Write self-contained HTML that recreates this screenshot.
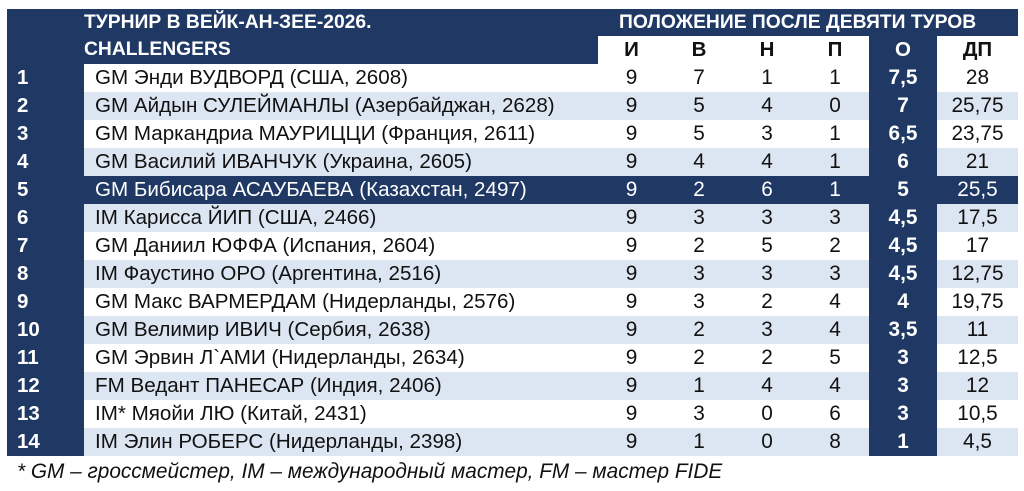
<!DOCTYPE html>
<html><head><meta charset="utf-8">
<style>
html,body{margin:0;padding:0;background:#fff;}
body{width:1024px;height:491px;position:relative;overflow:hidden;font-family:"Liberation Sans","DejaVu Sans",sans-serif;}
.a{position:absolute;}
.nv{background:#1f3864;}
.lb{background:#dce6f2;}
.t{position:absolute;white-space:nowrap;line-height:28px;height:28px;}
.h{font-weight:bold;color:#fff;font-size:19.3px;}
.h2{font-size:20.5px;}
.num{font-weight:bold;color:#fff;font-size:20.5px;left:17px;}
.nm{font-size:20.6px;color:#111;left:95px;}
.c{font-size:20.8px;color:#111;text-align:center;}
.o{font-weight:bold;color:#fff;font-size:20.8px;text-align:center;}
.w{color:#fff !important;}
</style></head><body>
<!-- header -->
<div class="a nv" style="left:7px;top:9px;width:1011px;height:27px;"></div>
<div class="a nv" style="left:7px;top:36px;width:591px;height:28px;"></div>
<div class="a nv" style="left:7px;top:64px;width:77px;height:392px;"></div>
<div class="a nv" style="left:869px;top:36px;width:68px;height:420px;"></div>
<div class="t h" style="left:84px;top:9px;height:27px;line-height:27px;">ТУРНИР В ВЕЙК-АН-ЗЕЕ-2026.</div>
<div class="t h" style="left:84px;top:36px;">CHALLENGERS</div>
<div class="t h" style="left:619px;top:9px;height:27px;line-height:27px;">ПОЛОЖЕНИЕ ПОСЛЕ ДЕВЯТИ ТУРОВ</div>
<div class="t h h2" style="left:598px;top:36px;width:67px;text-align:center;color:#111;">И</div>
<div class="t h h2" style="left:665px;top:36px;width:68px;text-align:center;color:#111;">В</div>
<div class="t h h2" style="left:733px;top:36px;width:68px;text-align:center;color:#111;">Н</div>
<div class="t h h2" style="left:801px;top:36px;width:68px;text-align:center;color:#111;">П</div>
<div class="t h h2" style="left:869px;top:36px;width:68px;text-align:center;">О</div>
<div class="t h h2" style="left:937px;top:36px;width:81px;text-align:center;color:#111;">ДП</div>

<!-- row backgrounds -->
<div class="a lb" style="left:84px;top:92px;width:785px;height:28px;"></div><div class="a lb" style="left:937px;top:92px;width:81px;height:28px;"></div>
<div class="a lb" style="left:84px;top:148px;width:785px;height:28px;"></div><div class="a lb" style="left:937px;top:148px;width:81px;height:28px;"></div>
<div class="a nv" style="left:84px;top:176px;width:934px;height:28px;"></div>
<div class="a lb" style="left:84px;top:204px;width:785px;height:28px;"></div><div class="a lb" style="left:937px;top:204px;width:81px;height:28px;"></div>
<div class="a lb" style="left:84px;top:260px;width:785px;height:28px;"></div><div class="a lb" style="left:937px;top:260px;width:81px;height:28px;"></div>
<div class="a lb" style="left:84px;top:316px;width:785px;height:28px;"></div><div class="a lb" style="left:937px;top:316px;width:81px;height:28px;"></div>
<div class="a lb" style="left:84px;top:372px;width:785px;height:28px;"></div><div class="a lb" style="left:937px;top:372px;width:81px;height:28px;"></div>
<div class="a lb" style="left:84px;top:428px;width:785px;height:28px;"></div><div class="a lb" style="left:937px;top:428px;width:81px;height:28px;"></div>

<!-- rows -->
<div class="t num" style="top:64px">1</div><div class="t nm" style="top:64px">GM Энди ВУДВОРД (США, 2608)</div>
<div class="t c" style="left:598px;width:67px;top:64px">9</div><div class="t c" style="left:665px;width:68px;top:64px">7</div><div class="t c" style="left:733px;width:68px;top:64px">1</div><div class="t c" style="left:801px;width:68px;top:64px">1</div><div class="t o" style="left:869px;width:68px;top:64px">7,5</div><div class="t c" style="left:937px;width:81px;top:64px">28</div>

<div class="t num" style="top:92px">2</div><div class="t nm" style="top:92px">GM Айдын СУЛЕЙМАНЛЫ (Азербайджан, 2628)</div>
<div class="t c" style="left:598px;width:67px;top:92px">9</div><div class="t c" style="left:665px;width:68px;top:92px">5</div><div class="t c" style="left:733px;width:68px;top:92px">4</div><div class="t c" style="left:801px;width:68px;top:92px">0</div><div class="t o" style="left:869px;width:68px;top:92px">7</div><div class="t c" style="left:937px;width:81px;top:92px">25,75</div>

<div class="t num" style="top:120px">3</div><div class="t nm" style="top:120px">GM Маркандриа МАУРИЦЦИ (Франция, 2611)</div>
<div class="t c" style="left:598px;width:67px;top:120px">9</div><div class="t c" style="left:665px;width:68px;top:120px">5</div><div class="t c" style="left:733px;width:68px;top:120px">3</div><div class="t c" style="left:801px;width:68px;top:120px">1</div><div class="t o" style="left:869px;width:68px;top:120px">6,5</div><div class="t c" style="left:937px;width:81px;top:120px">23,75</div>

<div class="t num" style="top:148px">4</div><div class="t nm" style="top:148px">GM Василий ИВАНЧУК (Украина, 2605)</div>
<div class="t c" style="left:598px;width:67px;top:148px">9</div><div class="t c" style="left:665px;width:68px;top:148px">4</div><div class="t c" style="left:733px;width:68px;top:148px">4</div><div class="t c" style="left:801px;width:68px;top:148px">1</div><div class="t o" style="left:869px;width:68px;top:148px">6</div><div class="t c" style="left:937px;width:81px;top:148px">21</div>

<div class="t num" style="top:176px">5</div><div class="t nm w" style="top:176px">GM Бибисара АСАУБАЕВА (Казахстан, 2497)</div>
<div class="t c w" style="left:598px;width:67px;top:176px">9</div><div class="t c w" style="left:665px;width:68px;top:176px">2</div><div class="t c w" style="left:733px;width:68px;top:176px">6</div><div class="t c w" style="left:801px;width:68px;top:176px">1</div><div class="t o" style="left:869px;width:68px;top:176px">5</div><div class="t c w" style="left:937px;width:81px;top:176px">25,5</div>

<div class="t num" style="top:204px">6</div><div class="t nm" style="top:204px">IM Карисса ЙИП (США, 2466)</div>
<div class="t c" style="left:598px;width:67px;top:204px">9</div><div class="t c" style="left:665px;width:68px;top:204px">3</div><div class="t c" style="left:733px;width:68px;top:204px">3</div><div class="t c" style="left:801px;width:68px;top:204px">3</div><div class="t o" style="left:869px;width:68px;top:204px">4,5</div><div class="t c" style="left:937px;width:81px;top:204px">17,5</div>

<div class="t num" style="top:232px">7</div><div class="t nm" style="top:232px">GM Даниил ЮФФА (Испания, 2604)</div>
<div class="t c" style="left:598px;width:67px;top:232px">9</div><div class="t c" style="left:665px;width:68px;top:232px">2</div><div class="t c" style="left:733px;width:68px;top:232px">5</div><div class="t c" style="left:801px;width:68px;top:232px">2</div><div class="t o" style="left:869px;width:68px;top:232px">4,5</div><div class="t c" style="left:937px;width:81px;top:232px">17</div>

<div class="t num" style="top:260px">8</div><div class="t nm" style="top:260px">IM Фаустино ОРО (Аргентина, 2516)</div>
<div class="t c" style="left:598px;width:67px;top:260px">9</div><div class="t c" style="left:665px;width:68px;top:260px">3</div><div class="t c" style="left:733px;width:68px;top:260px">3</div><div class="t c" style="left:801px;width:68px;top:260px">3</div><div class="t o" style="left:869px;width:68px;top:260px">4,5</div><div class="t c" style="left:937px;width:81px;top:260px">12,75</div>

<div class="t num" style="top:288px">9</div><div class="t nm" style="top:288px">GM Макс ВАРМЕРДАМ (Нидерланды, 2576)</div>
<div class="t c" style="left:598px;width:67px;top:288px">9</div><div class="t c" style="left:665px;width:68px;top:288px">3</div><div class="t c" style="left:733px;width:68px;top:288px">2</div><div class="t c" style="left:801px;width:68px;top:288px">4</div><div class="t o" style="left:869px;width:68px;top:288px">4</div><div class="t c" style="left:937px;width:81px;top:288px">19,75</div>

<div class="t num" style="top:316px">10</div><div class="t nm" style="top:316px">GM Велимир ИВИЧ (Сербия, 2638)</div>
<div class="t c" style="left:598px;width:67px;top:316px">9</div><div class="t c" style="left:665px;width:68px;top:316px">2</div><div class="t c" style="left:733px;width:68px;top:316px">3</div><div class="t c" style="left:801px;width:68px;top:316px">4</div><div class="t o" style="left:869px;width:68px;top:316px">3,5</div><div class="t c" style="left:937px;width:81px;top:316px">11</div>

<div class="t num" style="top:344px">11</div><div class="t nm" style="top:344px">GM Эрвин Л`АМИ (Нидерланды, 2634)</div>
<div class="t c" style="left:598px;width:67px;top:344px">9</div><div class="t c" style="left:665px;width:68px;top:344px">2</div><div class="t c" style="left:733px;width:68px;top:344px">2</div><div class="t c" style="left:801px;width:68px;top:344px">5</div><div class="t o" style="left:869px;width:68px;top:344px">3</div><div class="t c" style="left:937px;width:81px;top:344px">12,5</div>

<div class="t num" style="top:372px">12</div><div class="t nm" style="top:372px">FM Ведант ПАНЕСАР (Индия, 2406)</div>
<div class="t c" style="left:598px;width:67px;top:372px">9</div><div class="t c" style="left:665px;width:68px;top:372px">1</div><div class="t c" style="left:733px;width:68px;top:372px">4</div><div class="t c" style="left:801px;width:68px;top:372px">4</div><div class="t o" style="left:869px;width:68px;top:372px">3</div><div class="t c" style="left:937px;width:81px;top:372px">12</div>

<div class="t num" style="top:400px">13</div><div class="t nm" style="top:400px">IM* Мяойи ЛЮ (Китай, 2431)</div>
<div class="t c" style="left:598px;width:67px;top:400px">9</div><div class="t c" style="left:665px;width:68px;top:400px">3</div><div class="t c" style="left:733px;width:68px;top:400px">0</div><div class="t c" style="left:801px;width:68px;top:400px">6</div><div class="t o" style="left:869px;width:68px;top:400px">3</div><div class="t c" style="left:937px;width:81px;top:400px">10,5</div>

<div class="t num" style="top:428px">14</div><div class="t nm" style="top:428px">IM Элин РОБЕРС (Нидерланды, 2398)</div>
<div class="t c" style="left:598px;width:67px;top:428px">9</div><div class="t c" style="left:665px;width:68px;top:428px">1</div><div class="t c" style="left:733px;width:68px;top:428px">0</div><div class="t c" style="left:801px;width:68px;top:428px">8</div><div class="t o" style="left:869px;width:68px;top:428px">1</div><div class="t c" style="left:937px;width:81px;top:428px">4,5</div>

<div class="t" style="left:17px;top:458px;font-size:20.8px;font-style:italic;color:#111;">* GM – гроссмейстер, IM – международный мастер, FM – мастер FIDE</div>
</body></html>
